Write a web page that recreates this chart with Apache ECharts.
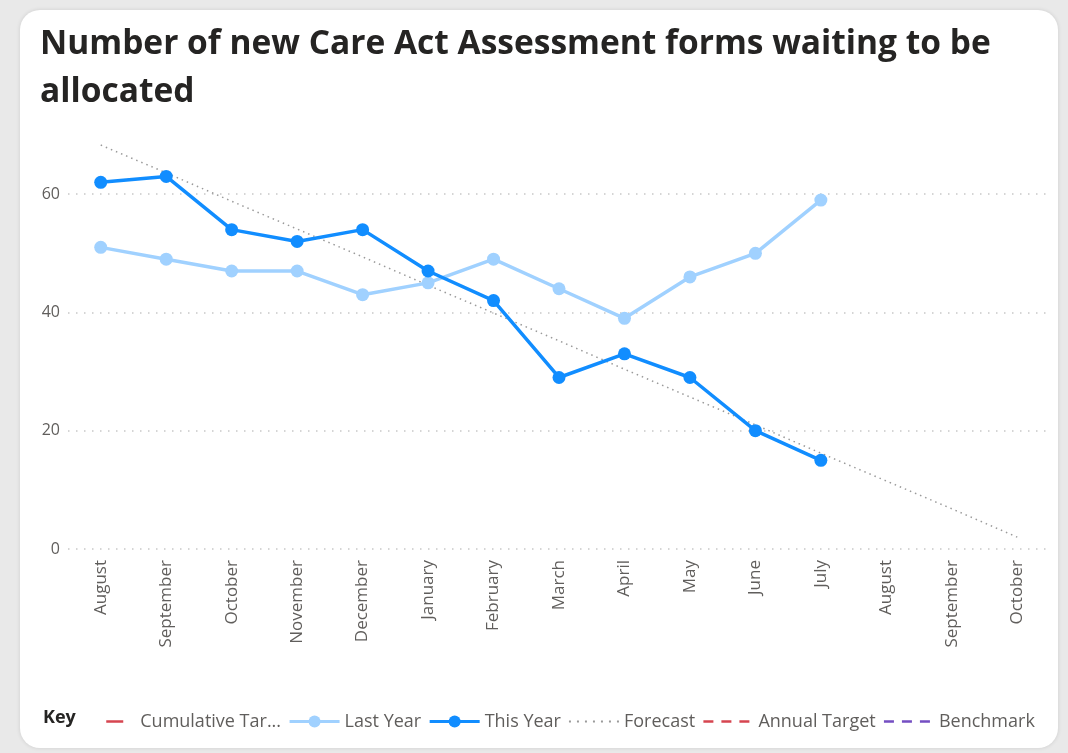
<!DOCTYPE html>
<html>
<head>
<meta charset="utf-8">
<script src="https://cdn.jsdelivr.net/npm/echarts@6/dist/echarts.min.js"></script>
<style>
  html, body { margin: 0; padding: 0; width: 1068px; height: 753px; background: #e9e9e9; overflow: hidden; }
  #card { position: absolute; left: 20px; top: 10px; width: 1038px; height: 738px; background: #fff; border-radius: 20px; box-shadow: 0 0 4px rgba(0,0,0,0.12); }
  #chart { position: absolute; left: 0; top: 0; width: 1068px; height: 753px; }
</style>
</head>
<body>
<div id="card"></div>
<div id="chart"></div>
<script>
const titleText = 'Number of new Care Act Assessment forms waiting to be\nallocated';
const categories = ['August', 'September', 'October', 'November', 'December', 'January', 'February', 'March', 'April', 'May', 'June', 'July', 'August', 'September', 'October'];
const thisYear = [62, 63, 54, 52, 54, 47, 42, 29, 33, 29, 20, 15, null, null, null];
const lastYear = [51, 49, 47, 47, 43, 45, 49, 44, 39, 46, 50, 59, null, null, null];
const forecast = [68.3, 63.6, 58.8, 54.1, 49.4, 44.6, 39.9, 35.2, 30.4, 25.7, 21.0, 16.2, 11.5, 6.8, 2.0];
const cumulativeTarget = [];
const annualTarget = [];
const benchmark = [];
const yTicks = { min: 0, max: 70, interval: 20 };
const legendNames = ['Cumulative Target', 'Last Year', 'This Year', 'Forecast', 'Annual Target', 'Benchmark'];
const legendLabels = { 'Cumulative Target': 'Cumulative Tar...' };

const FONT = '"Open Sans", "Segoe UI", sans-serif';
const chart = echarts.init(document.getElementById('chart'));
const hidden = { color: 'transparent', borderWidth: 0 };

chart.setOption({
  animation: false,
  title: [
    { text: titleText, left: 40, top: 20, padding: 0,
      textStyle: { fontFamily: FONT, fontWeight: 'bold', fontSize: 33.5, lineHeight: 48, color: '#252423' } },
    { text: 'Key', left: 43, top: 709, padding: 0,
      textStyle: { fontFamily: FONT, fontWeight: 'bold', fontSize: 18, color: '#252423' } }
  ],
  grid: { left: 68, right: 18, top: 135, bottom: 204 },
  legend: {
    left: 84, top: 712.5, padding: 0, itemWidth: 50, itemHeight: 15, itemGap: 7,
    textStyle: { fontFamily: FONT, fontSize: 18, color: '#605E5C' },
    formatter: function (n) { return legendLabels[n] || n; },
    data: [
      { name: legendNames[0], itemStyle: hidden, lineStyle: { width: 2.5 } },
      { name: legendNames[1], lineStyle: { width: 3 } },
      { name: legendNames[2], lineStyle: { width: 3 } },
      { name: legendNames[3], itemStyle: hidden, lineStyle: { width: 2, type: [2, 6] } },
      { name: legendNames[4], itemStyle: hidden, lineStyle: { width: 2.5, type: [10, 8] } },
      { name: legendNames[5], itemStyle: hidden, lineStyle: { width: 2.5, type: [10, 8] } }
    ]
  },
  xAxis: {
    type: 'category', data: categories, boundaryGap: true,
    axisLine: { show: false }, axisTick: { show: false },
    axisLabel: { rotate: 90, margin: 11, interval: 0, fontFamily: FONT, fontSize: 17, color: '#605E5C' }
  },
  yAxis: {
    type: 'value', min: yTicks.min, max: yTicks.max, interval: yTicks.interval,
    axisLine: { show: false }, axisTick: { show: false },
    axisLabel: { margin: 8, showMaxLabel: false, fontFamily: FONT, fontSize: 16, color: '#605E5C' },
    splitLine: { show: true, showMaxLine: false, lineStyle: { color: '#c8c8c8', width: 1.5, type: [1.5, 6.5] } }
  },
  series: [
    { name: legendNames[0], type: 'line', data: cumulativeTarget, symbol: 'none', color: '#D64550',
      lineStyle: { color: '#D64550', width: 2.5, type: [0, 21, 17, 100] } },
    { name: legendNames[1], type: 'line', data: lastYear, color: '#A0D1FF', symbol: 'circle', symbolSize: 13,
      lineStyle: { color: '#A0D1FF', width: 3.5 }, itemStyle: { color: '#A0D1FF' }, z: 3 },
    { name: legendNames[2], type: 'line', data: thisYear, color: '#118DFF', symbol: 'circle', symbolSize: 13,
      lineStyle: { color: '#118DFF', width: 3.5 }, itemStyle: { color: '#118DFF' }, z: 4 },
    { name: legendNames[3], type: 'line', data: forecast, symbol: 'none', color: '#9a9a9a',
      lineStyle: { color: '#9a9a9a', width: 1.5, type: [1.5, 4] }, z: 2 },
    { name: legendNames[4], type: 'line', data: annualTarget, symbol: 'none', color: '#D64550',
      lineStyle: { color: '#D64550', width: 2.5, type: [8, 7] } },
    { name: legendNames[5], type: 'line', data: benchmark, symbol: 'none', color: '#744EC2',
      lineStyle: { color: '#744EC2', width: 2.5, type: [8, 7] } }
  ]
});
</script>
</body>
</html>
